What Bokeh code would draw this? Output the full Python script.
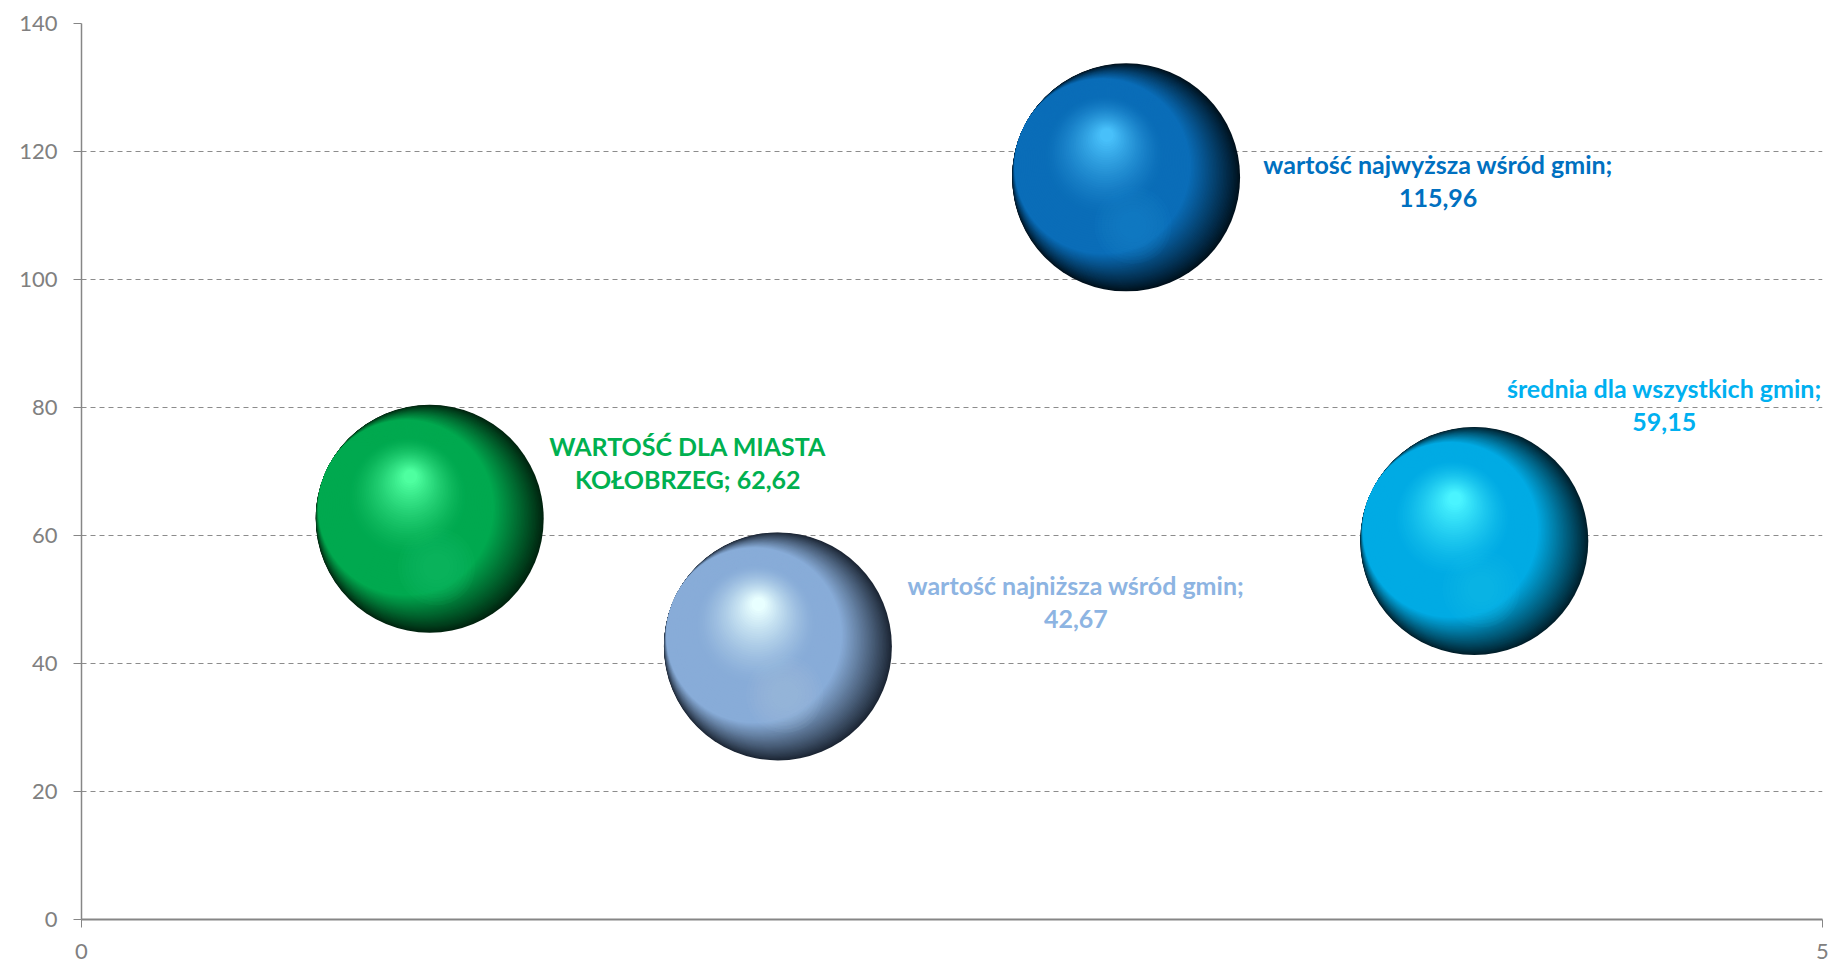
import math
from bokeh.plotting import figure
from bokeh.models import ColumnDataSource, FixedTicker, Range1d
from bokeh.embed import file_html
from bokeh.resources import INLINE
from bokeh.core.properties import value

# ---- data ----
x_vals = [1, 2, 3, 4]
y_vals = [62.62, 42.67, 115.96, 59.15]
names = ["WARTOŚĆ DLA MIASTA\nKOŁOBRZEG", "wartość najniższa wśród gmin",
         "wartość najwyższa wśród gmin", "średnia dla wszystkich gmin"]
separators = ["; ", ";\n", ";\n", ";\n"]
y_ticks = [0, 20, 40, 60, 80, 100, 120, 140]
x_ticks = [0, 5]

# ---- styles ----
label_colors = ["#00B050", "#8DB4E2", "#0070C0", "#00B0F0"]
dark_cols = ["#00240f", "#1c2634", "#00111d", "#001f2b"]
mid_cols = ["#00A94F", "#88ACD8", "#0A6DB8", "#00ABE4"]
hi_cols = ["#4EFFA0", "#E8FFFF", "#48C0FA", "#4AF4FF"]
label_dx = [258, 298, 312, 190]
label_dy = [56, 45, -3, 136]

FW, FH = 1741, 896
X0, X1, Y0, Y1 = 0, 5, 0, 140
pxx = FW / (X1 - X0)
pxy = FH / (Y1 - Y0)

p = figure(frame_width=FW, frame_height=FH, output_backend="svg", toolbar_location=None,
           x_range=Range1d(X0, X1), y_range=Range1d(Y0, Y1),
           min_border_left=81, min_border_top=23, min_border_right=9, min_border_bottom=45)
p.outline_line_color = None
p.background_fill_color = "white"
p.border_fill_color = "white"


def hex2rgb(h):
    h = h.lstrip("#")
    return [int(h[i:i + 2], 16) for i in (0, 2, 4)]


def mix(a, b, t):
    ca, cb = hex2rgb(a), hex2rgb(b)
    return "#%02x%02x%02x" % tuple(int(round(ca[i] + (cb[i] - ca[i]) * t)) for i in range(3))


R = 114.0
ang = math.radians(155)
ux, uy = math.cos(ang), math.sin(ang)
HX, HY = -0.17 * R, 0.37 * R
N1, N2 = 36, 50
r1 = 0.77 * R
xs, ys, sizes, cols, alphas = [], [], [], [], []
for i in range(len(x_vals)):
    d, m, h = dark_cols[i], mid_cols[i], hi_cols[i]
    # phase 1: dark crescent on the lower right
    for k in range(N1):
        s = k / N1
        r = R - (R - r1) * s
        sh = R - r
        xs.append(x_vals[i] + sh * ux / pxx)
        ys.append(y_vals[i] + sh * uy / pxy)
        sizes.append(2 * r)
        cols.append(mix(d, m, s ** 0.9))
        alphas.append(1.0)
    # phase 2: towards the highlight
    c1x, c1y = (R - r1) * ux, (R - r1) * uy
    for k in range(N2):
        s = k / (N2 - 1)
        r = r1 - (r1 - 0.06 * R) * s
        cx = c1x + (HX - c1x) * s
        cy = c1y + (HY - c1y) * s
        xs.append(x_vals[i] + cx / pxx)
        ys.append(y_vals[i] + cy / pxy)
        sizes.append(2 * r)
        t = max(0.0, (s - 0.35) / 0.65) ** 1.4
        cols.append(mix(m, h, t))
        alphas.append(1.0)
    # faint lower reflection
    for k in range(8):
        s = k / 7
        r = 0.34 * R - 0.22 * R * s
        xs.append(x_vals[i] + 0.06 * R / pxx)
        ys.append(y_vals[i] - 0.42 * R / pxy)
        sizes.append(2 * r)
        cols.append(mix(m, h, 0.35))
        alphas.append(0.07)

p.scatter(x=xs, y=ys, size=sizes, marker="circle", fill_color=cols, fill_alpha=alphas,
          line_color=None)


def fmt(v):
    return ("%.2f" % v).replace(".", ",")


texts = [names[i] + separators[i] + fmt(y_vals[i]) for i in range(len(x_vals))]
src = ColumnDataSource(dict(x=x_vals, y=y_vals, t=texts, c=label_colors, dx=label_dx,
                            dy=[-d for d in label_dy]))
p.text(x="x", y="y", text="t", text_color="c", x_offset="dx", y_offset="dy",
       source=src, text_align="center", text_baseline="middle",
       text_font=value("Lato"), text_font_style="bold", text_font_size="25px",
       text_line_height=1.1)

# axes
for ax in (p.xaxis[0], p.yaxis[0]):
    ax.axis_line_color = "#868686"
    ax.axis_line_width = 1.5
    ax.major_tick_line_color = "#868686"
    ax.major_tick_out = 8
    ax.major_tick_in = 0
    ax.minor_tick_line_color = None
    ax.major_label_text_color = "#808080"
    ax.major_label_text_font = "Lato"
    ax.major_label_text_font_size = "22px"
    ax.major_label_standoff = 16
p.xaxis[0].axis_line_width = 2
p.xaxis[0].ticker = FixedTicker(ticks=x_ticks)
p.yaxis[0].ticker = FixedTicker(ticks=y_ticks)

p.xgrid.grid_line_color = None
p.ygrid.grid_line_color = "#8c8c8c"
p.ygrid.grid_line_dash = "5 4"
p.ygrid.grid_line_width = 1
p.ygrid.ticker = FixedTicker(ticks=y_ticks)

open("out.html", "w").write(file_html(p, INLINE))
